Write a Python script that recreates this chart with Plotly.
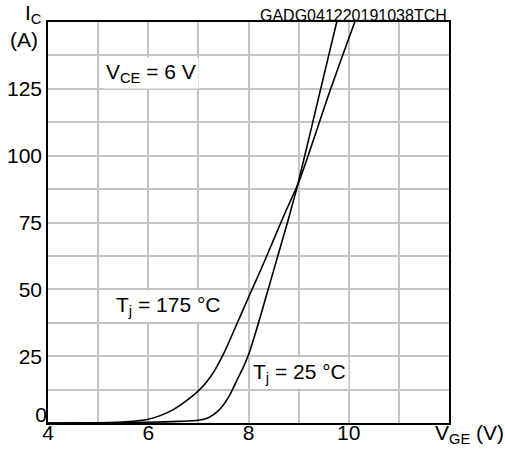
import plotly.graph_objects as go

# Transfer characteristic I_C vs V_GE at V_CE = 6 V
vge_25 = [4.0, 5.0, 6.0, 6.6, 7.0, 7.2, 7.4, 7.6, 7.8, 7.9, 8.0, 8.2, 8.4, 8.6, 8.8, 9.0, 9.44, 9.76]
ic_25 = [0.0, 0.1, 0.3, 0.6, 1.0, 2.0, 4.6, 9.6, 17.2, 21.0, 25.5, 37.5, 50.5, 63.5, 76.5, 90.5, 125.0, 150.0]

vge_175 = [4.0, 5.0, 5.5, 6.0, 6.5, 7.0, 7.25, 7.5, 7.75, 8.0, 8.25, 8.5, 8.75, 9.0, 9.64, 10.12]
ic_175 = [0.0, 0.1, 0.4, 1.4, 5.0, 12.0, 17.5, 25.8, 36.3, 47.0, 57.5, 68.5, 79.5, 90.0, 125.0, 150.0]

x_ticks = [4, 6, 8, 10]
y_ticks = [25, 50, 75, 100, 125]
y_zero_tick = [0]

FONT = "Liberation Sans, Arial, sans-serif"
GRID = "#c4c4c4"

fig = go.Figure()
for xs, ys in ((vge_175, ic_175), (vge_25, ic_25)):
    fig.add_trace(go.Scatter(
        x=xs, y=ys, mode="lines",
        line=dict(color="black", width=1.6, shape="spline", smoothing=0.8),
        hoverinfo="skip", showlegend=False, cliponaxis=True,
    ))

# empty traces so the label-only overlay axes get drawn
fig.add_trace(go.Scatter(x=[None], y=[None], yaxis="y2", showlegend=False, hoverinfo="skip"))
fig.add_trace(go.Scatter(x=[None], y=[None], xaxis="x2", showlegend=False, hoverinfo="skip"))

label_axis = dict(
    showgrid=False, showline=False, ticks="", zeroline=False,
    fixedrange=True, automargin=False, tickfont=dict(size=21),
)

fig.update_layout(
    template="none",
    width=505, height=450,
    margin=dict(l=48, r=56, t=22, b=27),
    paper_bgcolor="white", plot_bgcolor="white",
    font=dict(family=FONT, size=21, color="black"),
    xaxis=dict(
        range=[4, 12], tickvals=x_ticks, showticklabels=False,
        showgrid=True, gridcolor=GRID, gridwidth=1.5,
        minor=dict(dtick=1, showgrid=True, gridcolor=GRID, gridwidth=1.5),
        showline=True, linecolor="black", linewidth=1.5, mirror=True,
        ticks="", zeroline=False, fixedrange=True, automargin=False,
    ),
    # x tick labels, set a few pixels closer to the plot frame
    xaxis2=dict(
        overlaying="x", anchor="free", position=0.012, side="bottom",
        range=[4, 12], tickvals=x_ticks, ticktext=[str(v) for v in x_ticks],
        **label_axis,
    ),
    yaxis=dict(
        range=[0, 150], tickvals=y_ticks, ticktext=[str(v) for v in y_ticks],
        showgrid=False,
        minor=dict(tick0=0, dtick=12.5, showgrid=True, gridcolor=GRID, gridwidth=1.5),
        showline=True, linecolor="black", linewidth=1.5, mirror=True,
        ticks="", zeroline=False, fixedrange=True, automargin=False,
        tickfont=dict(size=21),
    ),
    # the zero label sits raised above the x-axis labels
    yaxis2=dict(
        overlaying="y", side="left", range=[0, 150],
        tickvals=y_zero_tick, ticktext=[str(v) for v in y_zero_tick],
        ticklabelshift=-8, **label_axis,
    ),
)

ann = [
    dict(text="I<sub>C</sub>", x=-0.037, y=1.0, xanchor="center", yanchor="middle",
         yshift=8),
    dict(text="(A)", x=-0.06, y=1.0, xanchor="center", yanchor="middle", yshift=-17),
    dict(text="V<sub>GE</sub> (V)", x=1.141, y=-0.028, xanchor="right", yanchor="middle"),
    dict(text="GADG041220191038TCH", x=1.0, y=1.0, xanchor="right", yanchor="bottom",
         font=dict(size=16), yshift=-4),
    dict(text="V<sub>CE</sub> = 6 V", x=0.258, y=0.873, xanchor="center", yanchor="middle",
         bgcolor="white", borderpad=2),
    dict(text="T<sub>j</sub> = 175 °C", x=0.299, y=0.292, xanchor="center", yanchor="middle",
         bgcolor="white", borderpad=2),
    dict(text="T<sub>j</sub> = 25 °C", x=0.626, y=0.125, xanchor="center", yanchor="middle",
         bgcolor="white", borderpad=2),
]
for a in ann:
    a.setdefault("font", dict(size=21))
    fig.add_annotation(xref="paper", yref="paper", showarrow=False, **a)

fig.write_html("out.html")
